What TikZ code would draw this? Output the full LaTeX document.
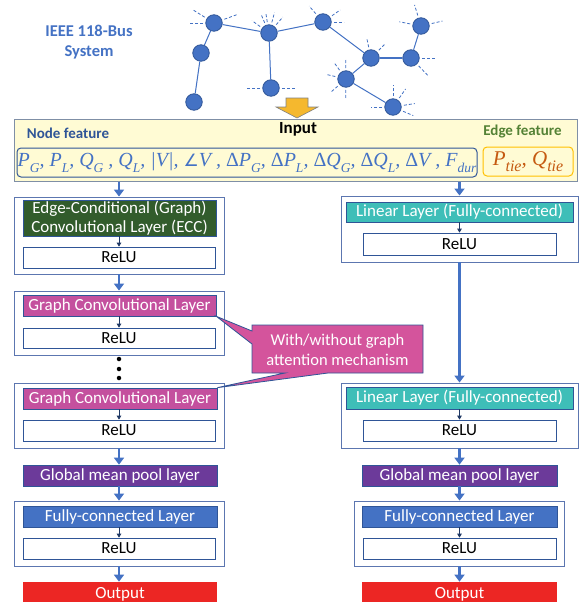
\documentclass[tikz,border=0pt]{standalone}
\usepackage{fontspec}
\setmainfont{Carlito}
\newfontfamily\fserif{Liberation Serif}
\newfontfamily\fsym{DejaVu Sans}
\usetikzlibrary{arrows.meta}
\definecolor{blueA}{RGB}{68,114,196}
\definecolor{navy}{RGB}{47,85,151}
\definecolor{navyd}{RGB}{31,56,100}
\definecolor{outb}{RGB}{92,118,176}
\definecolor{inb}{RGB}{127,143,166}
\definecolor{inyel}{RGB}{255,251,212}
\definecolor{eccg}{RGB}{50,92,44}
\definecolor{gclp}{RGB}{196,80,158}
\definecolor{callp}{RGB}{212,84,156}
\definecolor{poolp}{RGB}{108,58,154}
\definecolor{teal}{RGB}{62,190,184}
\definecolor{outred}{RGB}{236,38,36}
\definecolor{edgeg}{RGB}{84,130,53}
\definecolor{edgeo}{RGB}{255,192,0}
\definecolor{edget}{RGB}{197,90,17}
\definecolor{gold}{RGB}{245,184,46}
\newcommand\lay{\fontsize{17}{18.5}\selectfont}
\newcommand\lab{\fontsize{15}{18}\selectfont\bfseries}
\newcommand\sbs[1]{\raisebox{-0.28em}{\fontsize{13.5}{13.5}\selectfont #1}}
\newcommand\sbe[1]{\raisebox{-0.25em}{\fontsize{16}{16}\selectfont #1}}
\newcommand\dlt{{\upshape Δ}}
\begin{document}
\begin{tikzpicture}[x=1pt,y=-1pt,
  outer/.style={draw=outb, line width=0.9pt, inner sep=0},
  layer/.style={draw=navy, line width=0.7pt, text=white, font=\lay, inner sep=0, align=center},
  relu/.style={draw=navy, fill=white, line width=0.7pt, font=\lay, inner sep=0, text=black},
  big/.style={draw=blueA, line width=2.6pt, -{Triangle[width=10pt,length=7pt]}},
  small/.style={draw=navyd, line width=0.8pt, -{Triangle[width=4.5pt,length=4pt]}},
  bus/.style={circle, fill=blueA, draw=navy, line width=0.8pt, minimum size=16.5pt, inner sep=0},
  line/.style={draw=blueA, line width=1pt},
  stub/.style={draw=blueA, line width=0.8pt, dash pattern=on 3pt off 2pt},
  dotn/.style={circle, fill=black, minimum size=4.5pt, inner sep=0}]
\useasboundingbox (0,0) rectangle (587,602);
\clip (0,0) rectangle (587,602);
\fill[white] (0,0) rectangle (587,602);

% title
\node[align=center, font=\fontsize{16.5}{20}\selectfont\bfseries, text=blueA] (title) at (89,42) {IEEE 118-Bus\\System};

% network
\node[bus] (b1) at (214,23) {};
\node[bus] (b2) at (201,53) {};
\node[bus] (b3) at (194,102) {};
\node[bus] (b4) at (269,33) {};
\node[bus] (b5) at (323,22) {};
\node[bus] (b6) at (271,88) {};
\node[bus] (b7) at (371,58) {};
\node[bus] (b8) at (411,58) {};
\node[bus] (b9) at (421,26) {};
\node[bus] (b10) at (346,79) {};
\node[bus] (b11) at (393,107) {};
\draw[line] (b1) -- (b2);
\draw[line] (b2) -- (b3);
\draw[line] (b1) -- (b4);
\draw[line] (b4) -- (b5);
\draw[line] (b4) -- (b6);
\draw[line] (b5) -- (b7);
\draw[line, line width=2pt] (b7) -- (b8);
\draw[line] (b8) -- (b9);
\draw[line] (b7) -- (b10);
\draw[line] (b10) -- (b11);
\foreach \a in {180,212,340} \draw[stub] (b1) ++(\a:11) -- ++(\a:13);
\foreach \a in {216,247,261,285,311} \draw[stub] (b4) ++(\a:11) -- ++(\a:10);
\foreach \a in {229,325,0} \draw[stub] (b5) ++(\a:11) -- ++(\a:10);
\foreach \a in {180,0} \draw[stub] (b6) ++(\a:11) -- ++(\a:13);
\foreach \a in {258,315} \draw[stub] (b7) ++(\a:11) -- ++(\a:9);
\foreach \a in {0,46} \draw[stub] (b8) ++(\a:11) -- ++(\a:14);
\foreach \a in {253,191,347} \draw[stub] (b9) ++(\a:11) -- ++(\a:11);
\foreach \a in {234,269,193,139,91} \draw[stub] (b10) ++(\a:11) -- ++(\a:9);
\foreach \a in {180,270,305,351,23} \draw[stub] (b11) ++(\a:11) -- ++(\a:11);

% big yellow arrow
\coordinate (ytip) at (297,118);
\draw[fill=gold, draw=gray, line width=0.6pt] (286,98) -- (308,98) -- (308,107) -- (318,107) -- (ytip) -- (276,107) -- (286,107) -- cycle;

% input
\node[draw=inb, fill=inyel, line width=1pt, minimum width=563pt, minimum height=62pt, inner sep=0] (input) at (295.5,150) {};
\node[font=\lab, text=navy] (nf) at (68,133) {Node feature};
\node[font=\fontsize{17}{20}\selectfont\bfseries, text=black] (inp) at (298,129) {Input};
\node[font=\lab, text=edgeg] (ef) at (522.5,132) {Edge feature};
\node[draw=navy, line width=1pt, rounded corners=4pt, minimum width=460pt, minimum height=29pt, inner sep=0, text=blueA, font=\fontsize{20}{22}\selectfont\fserif\itshape] (nfeat) at (247,162.5)
  {P\sbs{G}, P\sbs{L}, Q\sbs{G} , Q\sbs{L}, |V|, {\fsym\fontsize{17}{20}\selectfont ∠}V , \dlt P\sbs{G}, \dlt P\sbs{L}, \dlt Q\sbs{G}, \dlt Q\sbs{L}, \dlt V , F\sbs{dur}};
\node[draw=edgeo, line width=1pt, rounded corners=4pt, minimum width=90pt, minimum height=29pt, inner sep=0, text=edget, font=\fontsize{21}{22}\selectfont\fserif\itshape] (efeat) at (528,161.5)
  {P\sbe{tie}, Q\sbe{tie}};

% left column
\node[outer, minimum width=210pt, minimum height=77pt] (outL1) at (119,235.5) {};
\node[layer, fill=eccg, minimum width=193pt, minimum height=36pt] (ecc) at (119.5,218) {Edge-Conditional (Graph)\\Convolutional Layer (ECC)};
\node[relu, minimum width=192pt, minimum height=21pt] (relu1) at (119,257.5) {ReLU};
\node[outer, minimum width=210pt, minimum height=64pt] (outL2) at (119,323) {};
\node[layer, fill=gclp, minimum width=193pt, minimum height=21pt] (gcl1) at (119.5,305.5) {Graph Convolutional Layer};
\node[relu, minimum width=192pt, minimum height=20pt] (relu2) at (119,338) {ReLU};
\node[dotn] (d1) at (119,359) {};
\node[dotn] (d2) at (119,369) {};
\node[dotn] (d3) at (119,378) {};
\node[outer, minimum width=210pt, minimum height=65pt] (outL3) at (119,415.5) {};
\node[layer, fill=gclp, minimum width=194pt, minimum height=21pt] (gcl2) at (120,398.5) {Graph Convolutional Layer};
\node[relu, minimum width=192pt, minimum height=21pt] (relu3) at (119,430.5) {ReLU};
\node[layer, fill=poolp, minimum width=194pt, minimum height=21pt] (poolL) at (120,475.5) {Global mean pool layer};
\node[outer, minimum width=210pt, minimum height=65pt] (outL4) at (119,533.5) {};
\node[layer, fill=blueA, minimum width=194pt, minimum height=21pt] (fcL) at (120,516.5) {Fully-connected Layer};
\node[relu, minimum width=192pt, minimum height=21pt] (relu4) at (119,548.5) {ReLU};
\node[layer, fill=outred, draw=none, minimum width=194pt, minimum height=24pt] (outputL) at (120,594) {Output};

% right column
\node[outer, minimum width=237pt, minimum height=66pt] (outR1) at (459.5,229) {};
\node[layer, fill=teal, minimum width=227pt, minimum height=20pt] (lin1) at (459.5,212) {Linear Layer (Fully-connected)};
\node[relu, minimum width=193pt, minimum height=22pt] (reluR1) at (459.5,244) {ReLU};
\node[outer, minimum width=237pt, minimum height=65pt] (outR2) at (459.5,415.5) {};
\node[layer, fill=teal, minimum width=227pt, minimum height=22pt] (lin2) at (459.5,398) {Linear Layer (Fully-connected)};
\node[relu, minimum width=193pt, minimum height=21pt] (reluR2) at (459.5,430.5) {ReLU};
\node[layer, fill=poolp, minimum width=195pt, minimum height=21pt] (poolR) at (459.5,475.5) {Global mean pool layer};
\node[outer, minimum width=210pt, minimum height=65pt] (outR4) at (459.5,533.5) {};
\node[layer, fill=blueA, minimum width=195pt, minimum height=21pt] (fcR) at (459.5,516.5) {Fully-connected Layer};
\node[relu, minimum width=193pt, minimum height=21pt] (reluR4) at (459.5,548.5) {ReLU};
\node[layer, fill=outred, draw=none, minimum width=195pt, minimum height=24pt] (outputR) at (459.5,594) {Output};

% big arrows
\draw[big] (input.south -| outL1.north) -- (outL1.north);
\draw[big] (input.south -| outR1.north) -- (outR1.north);
\draw[big] (outL1.south) -- (outL2.north);
\draw[big] (outL3.south) -- (outL3.south |- poolL.north);
\draw[big] (outL3.south |- poolL.south) -- (outL4.north);
\draw[big] (outL4.south) -- (outL4.south |- outputL.north);
\draw[big, line width=3pt] (outR1.south) -- (outR2.north);
\draw[big] (outR2.south) -- (poolR.north);
\draw[big] (poolR.south) -- (outR4.north);
\draw[big] (outR4.south) -- (outputR.north);

% small arrows
\draw[small] (ecc.south -| relu1.north) -- (relu1.north);
\draw[small] (gcl1.south -| relu2.north) -- (relu2.north);
\draw[small] (gcl2.south -| relu3.north) -- (relu3.north);
\draw[small] (fcL.south -| relu4.north) -- (relu4.north);
\draw[small] (lin1.south) -- (reluR1.north);
\draw[small] (lin2.south) -- (reluR2.north);
\draw[small] (fcR.south) -- (reluR4.north);

% callout
\draw[fill=callp, draw=navy, line width=0.8pt, line join=miter]
  (252,325) -- (423,325) -- (423,373) -- (328,373) -- (gcl2.north east) -- (285,373) -- (252,373)
  -- (252,344) -- (gcl1.south east) -- (252,331) -- cycle;
\node[text=white, font=\fontsize{16.5}{20}\selectfont, align=center] (note) at (337.5,350) {With/without graph\\attention mechanism};
\end{tikzpicture}
\end{document}
